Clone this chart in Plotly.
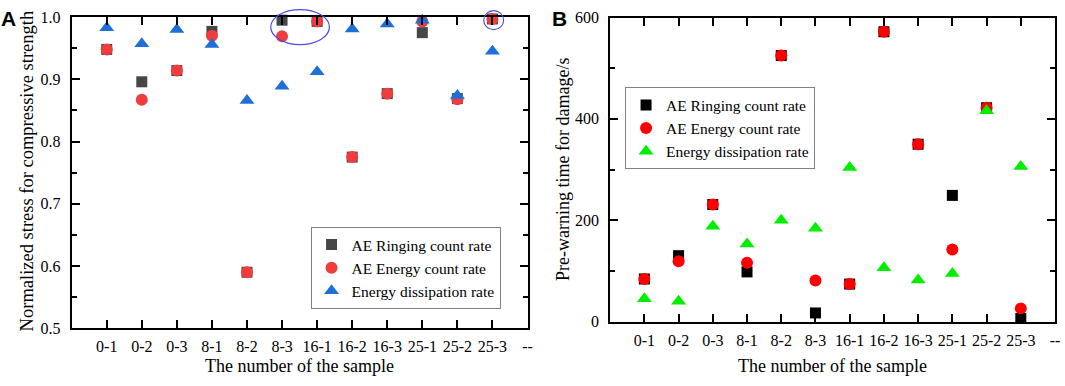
import plotly.graph_objects as go

samples = ["0-1", "0-2", "0-3", "8-1", "8-2", "8-3", "16-1", "16-2", "16-3", "25-1", "25-2", "25-3"]
tick_labels = samples + ["--"]
a_yticks = [0.5, 0.6, 0.7, 0.8, 0.9, 1.0]
a_yticktext = ["0.5", "0.6", "0.7", "0.8", "0.9", "1.0"]

# Panel A: normalized stress for compressive strength
a_ringing = [0.948, 0.896, 0.914, 0.977, 0.590, 0.995, 0.993, 0.775, 0.877, 0.975, 0.869, 0.997]
a_energy = [0.948, 0.867, 0.914, 0.970, 0.590, 0.969, 0.993, 0.775, 0.877, 0.993, 0.868, 0.997]
a_dissip = [0.983, 0.957, 0.980, 0.956, 0.866, 0.889, 0.912, 0.981, 0.989, 0.995, 0.874, 0.945]

# Panel B: pre-warning time for damage (s)
b_ringing = [84, 130, 231, 98, 525, 17, 74, 572, 350, 249, 422, 6]
b_energy = [84, 119, 231, 116, 525, 81, 74, 572, 350, 142, 422, 26]
b_dissip = [45, 40, 188, 153, 200, 184, 304, 106, 82, 95, 416, 306]

names = ["AE Ringing count rate", "AE Energy count rate", "Energy dissipation rate"]
xs = list(range(1, len(samples) + 1))
ticks = list(range(1, len(tick_labels) + 1))

W, H = 1065, 386
FONT = "Liberation Serif"

fig = go.Figure()

a_style = [("square", "#474747", 11), ("circle", "#F03C3C", 12), ("triangle-up", "#1F6FD8", 13)]
b_style = [("square", "#000000", 11), ("circle", "#FF0000", 12), ("triangle-up", "#00EE00", 13)]

for vals, name, (sym, col, sz) in zip([a_ringing, a_energy, a_dissip], names, a_style):
    fig.add_trace(go.Scatter(x=xs, y=vals, mode="markers", name=name,
                             marker=dict(symbol=sym, color=col, size=sz, line=dict(width=0)),
                             xaxis="x", yaxis="y", legend="legend", cliponaxis=False))
for vals, name, (sym, col, sz) in zip([b_ringing, b_energy, b_dissip], names, b_style):
    fig.add_trace(go.Scatter(x=xs, y=vals, mode="markers", name=name,
                             marker=dict(symbol=sym, color=col, size=sz, line=dict(width=0)),
                             xaxis="x2", yaxis="y2", legend="legend2", cliponaxis=False))

axis_common = dict(showline=True, linecolor="black", linewidth=2, mirror="allticks",
                   ticks="inside", ticklen=8, tickwidth=1.5, tickcolor="black",
                   showgrid=False, zeroline=False,
                   tickfont=dict(family=FONT, size=16, color="black"))

xa = dict(axis_common, range=[0, 13], tickmode="array", tickvals=ticks, ticktext=tick_labels,
          ticklabelstandoff=3)

fig.update_layout(
    width=W, height=H,
    margin=dict(l=0, r=0, t=0, b=0),
    paper_bgcolor="white", plot_bgcolor="white",
    font=dict(family=FONT, color="black"),
    xaxis=dict(xa, domain=[72 / W, 530 / W], anchor="y"),
    yaxis=dict(axis_common, domain=[1 - 335 / H, 1 - 9.5 / H], anchor="x",
               range=[0.5, 1.0], tickmode="array", tickvals=a_yticks, ticktext=a_yticktext,
               ticklabelstandoff=6,
               minor=dict(dtick=0.05, ticks="inside", ticklen=5, tickwidth=1.5, tickcolor="black")),
    xaxis2=dict(xa, domain=[613 / W, 1060 / W], anchor="y2"),
    yaxis2=dict(axis_common, domain=[1 - 328 / H, 1 - 10 / H], anchor="x2",
                range=[0, 600], dtick=200, ticklabelstandoff=6,
                minor=dict(dtick=100, ticks="inside", ticklen=5, tickwidth=1.5, tickcolor="black")),
    legend=dict(x=312 / W, y=1 - 229 / H, xanchor="left", yanchor="top",
                bgcolor="white", bordercolor="#808080", borderwidth=1,
                font=dict(family=FONT, size=15.5, color="black"), tracegroupgap=0),
    legend2=dict(x=628 / W, y=1 - 83 / H, xanchor="left", yanchor="top",
                 bgcolor="white", bordercolor="#808080", borderwidth=1,
                 font=dict(family=FONT, size=15.5, color="black"), tracegroupgap=0),
    showlegend=True,
)

# Axis titles and panel letters
ann = [
    dict(text="The number of the sample", x=301 / W, y=1 - 375 / H, font=dict(size=18)),
    dict(text="The number of the sample", x=836 / W, y=1 - 375 / H, font=dict(size=18)),
    dict(text="Normalized stress for compressive strength", x=27 / W, y=1 - 170 / H,
         textangle=-90, font=dict(size=18.5)),
    dict(text="Pre-warning time for damage/s", x=565 / W, y=1 - 169 / H,
         textangle=-90, font=dict(size=18)),
    dict(text="<b>A</b>", x=9 / W, y=1 - 11 / H, font=dict(family="Liberation Sans", size=21)),
    dict(text="<b>B</b>", x=562 / W, y=1 - 11 / H, font=dict(family="Liberation Sans", size=21)),
]
for a in ann:
    f = dict(family=FONT, color="black")
    f.update(a.pop("font"))
    fig.add_annotation(xref="paper", yref="paper", showarrow=False, xanchor="center",
                       yanchor="middle", font=f, **a)

# Highlight ellipses (panel A)
for x0, x1, y0, y1 in [(272, 331, 1.7, 38.3), (486, 506, 2.7, 22.7)]:
    fig.add_shape(type="circle", xref="paper", yref="paper",
                  x0=x0 / W, x1=x1 / W, y0=1 - y1 / H, y1=1 - y0 / H,
                  line=dict(color="#4B4BE6", width=1.2))

fig.write_html("out.html", config={"displayModeBar": False},
               post_script="document.body.style.margin='0';document.body.style.padding='0';")
